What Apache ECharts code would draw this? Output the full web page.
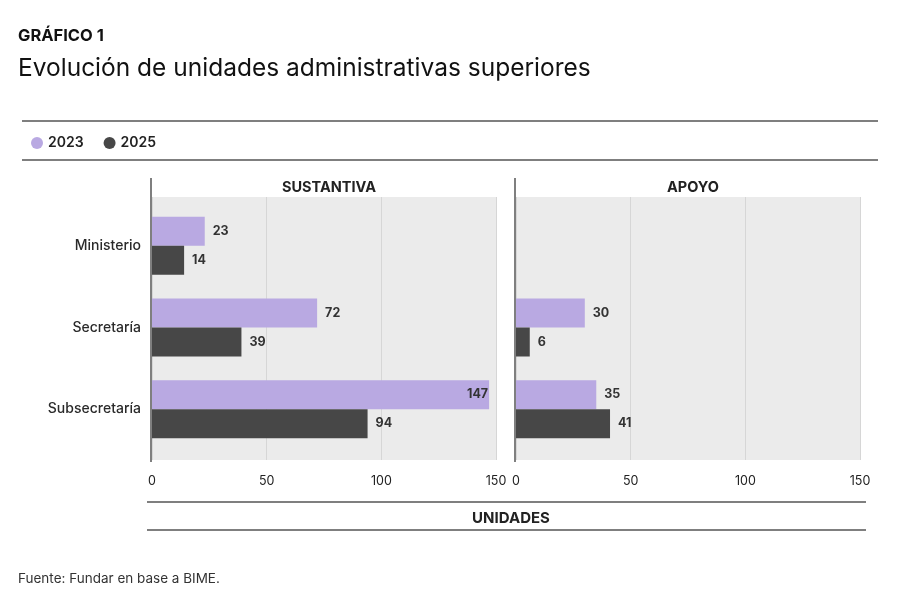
<!DOCTYPE html>
<html>
<head>
<meta charset="utf-8">
<script src="https://cdn.jsdelivr.net/npm/echarts@6/dist/echarts.min.js"></script>
<style>
html,body{margin:0;padding:0;background:#fff;}
#chart{width:900px;height:600px;}
</style>
</head>
<body>
<div id="chart"></div>
<script>
const categories = ['Ministerio', 'Secretaría', 'Subsecretaría'];
const panels = ['SUSTANTIVA', 'APOYO'];
const seriesNames = ['2023', '2025'];
const sustantiva2023 = [23, 72, 147];
const sustantiva2025 = [14, 39, 94];
const apoyo2023 = [null, 30, 35];
const apoyo2025 = [null, 6, 41];
const xTicks = [0, 50, 100, 150];

const FONT = 'Inter, Roboto, "Noto Sans", sans-serif';
const C2023 = '#b9a9e2';
const C2025 = '#474747';
const RULE = '#555555';

const chart = echarts.init(document.getElementById('chart'));

const panelLefts = [152, 516];
const panelWidth = 344;
const bgTop = 197, bgHeight = 263;
const dataTop = 205, dataHeight = 245;

function mkData(arr) {
  return arr.map(v => {
    if (v == null) return '-';
    if (v > 140) {
      return { value: v, label: { position: 'insideRight', offset: [7, 0] } };
    }
    return v;
  });
}

const grids = [], xAxes = [], yAxes = [], series = [];
panelLefts.forEach((left, p) => {
  grids.push({ left: left, width: panelWidth, top: bgTop, height: bgHeight, show: true, backgroundColor: '#ebebeb', borderWidth: 0 });
  grids.push({ left: left, width: panelWidth, top: dataTop, height: dataHeight });
  xAxes.push({
    type: 'value', gridIndex: 2 * p, min: xTicks[0], max: xTicks[xTicks.length - 1], interval: 50,
    axisLine: { show: false }, axisTick: { show: false },
    axisLabel: { color: '#222', fontSize: 12.5, fontFamily: FONT, margin: 15 },
    splitLine: { show: true, lineStyle: { color: '#d6d6d6', width: 1 } }
  });
  xAxes.push({
    type: 'value', gridIndex: 2 * p + 1, min: xTicks[0], max: xTicks[xTicks.length - 1], interval: 50,
    show: false, splitLine: { show: false }
  });
  yAxes.push({ type: 'category', gridIndex: 2 * p, data: categories, show: false });
  yAxes.push({
    type: 'category', gridIndex: 2 * p + 1, data: categories, inverse: true,
    axisLine: { show: false }, axisTick: { show: false },
    axisLabel: { show: p === 0, color: '#2a2a2a', fontSize: 14, fontWeight: 500, fontFamily: FONT, margin: 11 }
  });
});

const dataSets = [[sustantiva2023, sustantiva2025], [apoyo2023, apoyo2025]];
const colors = [C2023, C2025];
dataSets.forEach((pair, p) => {
  pair.forEach((arr, s) => {
    series.push({
      name: seriesNames[s], type: 'bar', xAxisIndex: 2 * p + 1, yAxisIndex: 2 * p + 1,
      data: mkData(arr), barWidth: 29, barGap: '0%',
      itemStyle: { color: colors[s] },
      label: { show: true, position: 'right', distance: 8, color: '#333', fontSize: 12.5, fontWeight: 'bold', fontFamily: FONT },
      silent: true
    });
  });
});

function hline(x1, x2, y) {
  return { type: 'line', shape: { x1, y1: y, x2, y2: y }, style: { stroke: RULE, lineWidth: 1.5 }, silent: true };
}
function vline(x, y1, y2) {
  return { type: 'line', shape: { x1: x, y1, x2: x, y2 }, style: { stroke: RULE, lineWidth: 1.5 }, silent: true };
}

chart.setOption({
  animation: false,
  backgroundColor: '#ffffff',
  textStyle: { fontFamily: FONT },
  title: [
    { text: 'GRÁFICO 1', left: 13, top: 23, textStyle: { fontSize: 16.5, fontWeight: 'bold', color: '#111', fontFamily: FONT } },
    { text: 'Evolución de unidades administrativas superiores', left: 13, top: 51, textStyle: { fontSize: 24.5, fontWeight: 'normal', color: '#111', fontFamily: FONT } },
    { text: panels[0], left: panelLefts[0] + panelWidth / 2, textAlign: 'center', top: 175, textStyle: { fontSize: 14.5, fontWeight: 'bold', color: '#222', fontFamily: FONT } },
    { text: panels[1], left: panelLefts[1] + panelWidth / 2, textAlign: 'center', top: 175, textStyle: { fontSize: 14.5, fontWeight: 'bold', color: '#222', fontFamily: FONT } },
    { text: 'UNIDADES', left: 506, textAlign: 'center', top: 506, textStyle: { fontSize: 15, fontWeight: 'bold', color: '#222', fontFamily: FONT } },
    { text: 'Fuente: Fundar en base a BIME.', left: 13, top: 567, textStyle: { fontSize: 13.5, fontWeight: 'normal', color: '#333', fontFamily: FONT } }
  ],
  legend: {
    left: 26, top: 131, icon: 'circle', itemWidth: 12, itemHeight: 12, itemGap: 20,
    data: seriesNames,
    textStyle: { fontSize: 14, fontWeight: 600, color: '#222', fontFamily: FONT }
  },
  grid: grids,
  xAxis: xAxes,
  yAxis: yAxes,
  series: series,
  graphic: [
    hline(22, 878, 121),
    hline(22, 878, 160),
    vline(151, 178, 462),
    vline(515, 178, 462),
    hline(147, 866, 502),
    hline(147, 866, 530)
  ]
});
</script>
</body>
</html>
